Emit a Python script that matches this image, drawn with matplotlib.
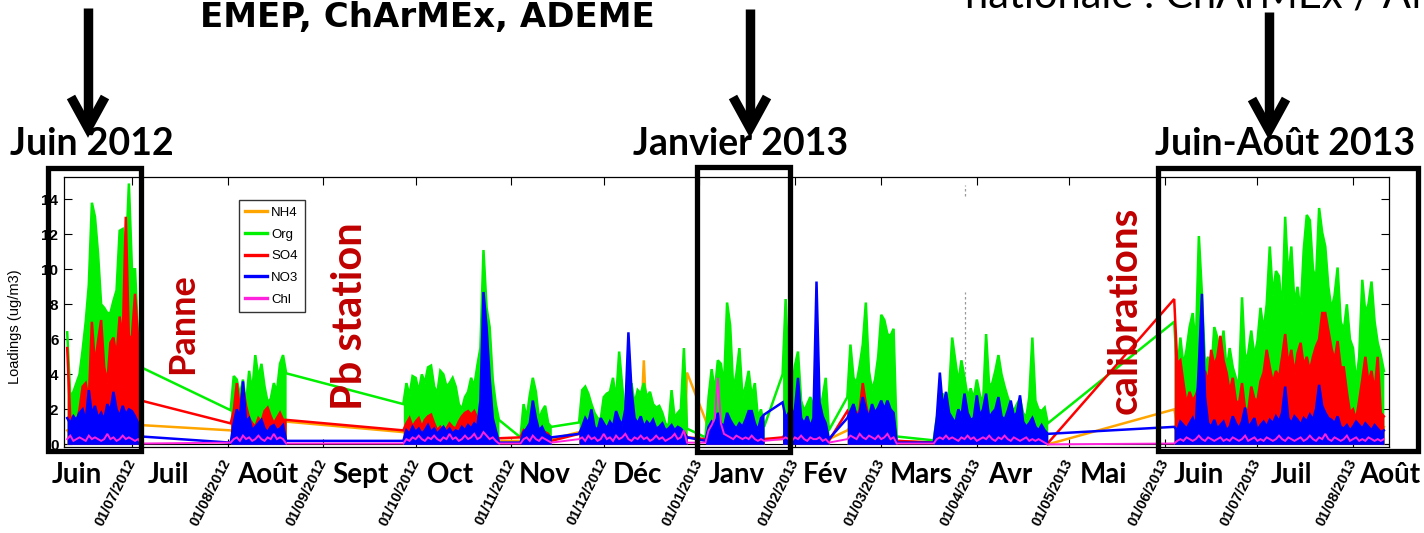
import matplotlib
matplotlib.use("Agg")
import matplotlib.pyplot as plt
import matplotlib.dates as mdates
from matplotlib.lines import Line2D
from matplotlib.patches import Rectangle
import pandas as pd

# ---------------- data (daily values) ----------------
seg_start = ['2012-06-10', '2012-08-02', '2012-09-27', '2012-11-04', '2012-11-23',
             '2013-01-03', '2013-01-28', '2013-02-18', '2013-03-18', '2013-06-04']

nh4 = [
    [0.8, 0.6, 0.7, 0.5, 0.9, 1.0, 0.8, 1.2, 1.0, 0.9, 1.1, 1.3, 0.9, 1.0, 1.2, 1.4, 1.1, 1.3, 1.0, 1.5, 1.2, 1.1, 1.3, 1.2, 1.1],
    [0.8, 0.6, 0.9, 0.7, 1.0, 0.6, 0.8, 0.5, 0.7, 0.9, 0.6, 1.0, 0.8, 0.7, 0.9, 0.6, 1.0, 0.8, 1.3],
    [0.7, 0.6, 0.8, 0.5, 0.7, 0.9, 0.6, 0.8, 0.7, 0.9, 0.6, 0.5, 0.7, 0.6, 0.8, 0.5, 0.7, 0.6, 0.8, 0.9, 0.7, 1.0, 0.8, 0.9, 0.7, 0.8, 1.2, 0.9, 0.6, 0.5, 0.4, 0.2],
    [0.2, 0.3, 0.5, 0.4, 0.6, 0.3, 0.4, 0.5, 0.3, 0.4, 0.3],
    [0.7, 0.5, 0.8, 0.6, 0.9, 0.5, 0.6, 0.7, 0.8, 0.6, 0.9, 0.7, 0.5, 0.8, 0.6, 0.7, 0.9, 0.6, 0.8, 0.5, 0.7, 4.8, 0.9, 0.6, 0.8, 0.7, 0.5, 0.6, 0.8, 0.7, 0.5, 0.6, 0.7, 0.5, 0.8, 4.1],
    [1.4, 0.8, 0.6, 0.7, 0.5, 0.6, 0.8, 0.5, 0.7, 0.6, 0.4, 0.5, 0.6, 0.4, 0.5, 0.3, 0.4, 0.3, 0.4, 0.3],
    [0.3, 0.5, 0.4, 0.6, 0.4, 0.5, 0.3, 0.4, 0.6, 0.5, 0.4, 0.7, 0.5, 0.4, 0.5, 0.3],
    [0.8, 1.0, 1.2, 0.9, 1.1, 1.4, 1.0, 0.8, 1.2, 0.9, 1.0, 1.3, 1.1, 1.2, 0.9, 1.0, 0.2],
    [0.1, 0.4, 0.6, 0.5, 0.7, 0.5, 0.6, 0.4, 0.5, 0.7, 0.6, 0.5, 0.4, 0.6, 0.5, 0.7, 0.4, 0.6, 0.5, 0.4, 0.6, 0.5, 0.4, 0.5, 0.6, 0.4, 0.5, 0.3, 0.4, 0.5, 0.3, 0.4, 0.3, 0.4, 0.2, 0.3, 0.2, 0.0],
    [2.0, 1.2, 1.5, 1.0, 1.3, 1.1, 1.6, 1.2, 1.8, 1.4, 1.0, 1.3, 1.5, 1.2, 1.7, 1.4, 1.1, 1.6, 1.3, 1.5, 1.2, 1.8, 1.4, 1.6, 1.3, 2.0, 1.5, 1.7, 1.2, 1.4, 1.9, 1.6, 1.3, 1.8, 2.2, 1.5, 2.0, 1.7, 1.4, 1.6, 1.3, 1.9, 1.5, 1.7, 1.4, 2.0, 1.6, 2.1, 2.4, 1.8, 1.5, 2.0, 1.7, 1.6, 1.9, 1.3, 1.5, 2.2, 1.6, 1.8, 1.2, 1.4, 1.6, 1.3, 1.5, 1.2, 1.4, 1.1, 1.0],
]

org = [
    [6.4, 2.7, 3.0, 3.5, 4.0, 5.4, 7.0, 9.1, 13.8, 13.0, 10.9, 8.0, 7.8, 7.5, 7.5, 8.2, 8.8, 12.2, 12.3, 10.5, 14.9, 10.0, 10.0, 6.0, 4.4],
    [1.95, 3.9, 3.7, 2.8, 3.7, 2.3, 4.2, 3.0, 5.1, 3.8, 4.6, 3.3, 2.4, 2.6, 3.5, 3.0, 4.6, 5.1, 4.06],
    [2.3, 3.5, 2.8, 3.9, 3.8, 3.0, 4.0, 3.5, 4.4, 4.5, 3.3, 2.9, 4.2, 4.0, 3.3, 3.5, 3.8, 3.3, 2.3, 2.0, 2.7, 3.0, 3.8, 3.3, 4.5, 5.5, 11.1, 7.8, 6.7, 3.7, 2.3, 1.4],
    [0.4, 2.3, 1.5, 2.8, 3.8, 3.0, 1.4, 1.9, 2.2, 1.2, 1.0],
    [1.25, 3.1, 3.3, 2.9, 2.3, 1.8, 1.5, 1.4, 2.7, 2.9, 3.0, 3.8, 2.5, 5.3, 3.3, 1.5, 2.6, 3.5, 2.3, 3.1, 2.9, 3.5, 2.7, 3.0, 2.3, 2.1, 2.2, 1.8, 1.2, 1.0, 3.1, 1.5, 1.8, 2.0, 5.5, 0.9],
    [0.4, 2.7, 4.3, 3.0, 4.8, 4.6, 3.3, 8.1, 6.8, 3.1, 4.0, 5.5, 2.7, 3.3, 4.2, 2.7, 3.5, 1.5, 2.0, 1.0],
    [4.0, 8.3, 3.5, 3.0, 4.5, 5.3, 2.5, 1.9, 2.3, 2.7, 2.2, 2.5, 1.8, 2.7, 3.8, 0.8],
    [2.7, 5.7, 3.8, 3.5, 4.5, 5.7, 8.1, 4.2, 3.1, 3.7, 5.0, 7.4, 7.1, 6.3, 6.2, 6.6, 0.45],
    [0.23, 1.5, 2.3, 2.9, 2.4, 3.0, 6.1, 4.8, 3.5, 4.8, 3.8, 2.7, 3.2, 2.6, 3.7, 2.8, 2.3, 6.3, 3.3, 3.5, 4.2, 5.1, 4.0, 3.3, 2.7, 2.2, 1.9, 2.3, 2.6, 1.8, 1.5, 2.7, 6.1, 2.5, 2.0, 1.9, 2.1, 1.2],
    [7.0, 4.0, 6.1, 4.5, 5.4, 6.7, 7.5, 5.5, 11.9, 8.6, 4.5, 5.0, 4.0, 6.7, 6.1, 4.8, 6.5, 4.2, 5.5, 4.4, 3.8, 3.3, 8.4, 4.8, 5.2, 6.5, 5.0, 5.9, 7.8, 6.5, 8.0, 11.3, 8.5, 9.9, 9.6, 7.5, 13.0, 9.4, 11.3, 8.0, 9.0, 7.5, 11.1, 13.1, 12.8, 10.0, 9.4, 13.5, 12.1, 11.3, 9.0, 7.7, 8.5, 10.1, 7.0, 6.5, 8.0, 6.0, 5.5, 3.5, 5.0, 9.4, 7.5, 8.0, 9.3, 7.0, 5.8, 5.1, 4.2],
]

so4 = [
    [5.5, 1.4, 1.6, 1.2, 2.0, 3.3, 3.5, 2.5, 7.0, 4.5, 5.9, 7.1, 4.4, 3.5, 5.8, 6.1, 5.0, 7.3, 6.0, 13.0, 6.0, 6.2, 8.6, 6.0, 2.5],
    [1.2, 1.9, 3.5, 2.0, 3.3, 2.2, 1.5, 1.2, 1.0, 1.5, 1.3, 1.9, 2.1, 1.6, 1.2, 1.5, 1.8, 1.4, 1.4],
    [0.8, 1.2, 1.5, 1.0, 1.3, 1.5, 1.0, 1.4, 1.6, 1.7, 1.2, 0.8, 1.0, 0.8, 0.9, 1.2, 1.0, 0.9, 1.3, 1.6, 1.8, 1.9, 1.7, 1.9, 1.5, 1.2, 1.5, 0.8, 0.7, 0.5, 0.4, 0.35],
    [0.4, 0.8, 0.6, 0.9, 0.7, 0.6, 0.8, 0.5, 0.7, 0.6, 0.2],
    [0.6, 0.8, 1.0, 0.7, 0.9, 0.6, 0.5, 0.7, 0.9, 1.0, 0.8, 0.6, 0.9, 1.1, 0.8, 0.6, 0.9, 0.7, 0.6, 0.8, 1.0, 0.7, 0.9, 0.6, 0.8, 0.7, 0.5, 0.6, 0.8, 0.5, 0.7, 0.6, 0.8, 0.5, 0.7, 0.4],
    [0.3, 0.5, 0.4, 0.6, 0.5, 0.7, 0.4, 0.6, 0.8, 0.5, 0.6, 0.4, 0.5, 0.7, 0.4, 0.5, 0.6, 0.3, 0.4, 0.3],
    [0.4, 0.6, 0.5, 0.7, 0.5, 0.8, 0.6, 0.4, 0.5, 0.7, 0.6, 0.8, 0.5, 0.6, 0.7, 0.2],
    [1.9, 1.5, 2.2, 1.6, 2.0, 3.5, 2.3, 1.5, 1.8, 1.4, 2.0, 1.6, 1.8, 1.5, 1.2, 1.4, 0.2],
    [0.1, 0.5, 0.8, 0.6, 1.0, 0.8, 0.7, 0.9, 1.2, 0.8, 1.0, 0.7, 0.9, 1.1, 0.8, 0.7, 1.0, 0.9, 0.8, 1.2, 1.0, 1.3, 0.9, 0.8, 1.0, 1.6, 1.2, 0.9, 1.1, 0.8, 1.0, 0.9, 1.5, 0.8, 0.7, 0.9, 0.5, 0.06],
    [8.3, 4.6, 4.8, 3.5, 2.3, 3.0, 2.5, 2.8, 3.3, 2.6, 4.2, 3.5, 5.4, 4.5, 5.0, 6.2, 4.8, 4.1, 3.0, 3.8, 2.5, 2.3, 3.5, 2.0, 1.9, 3.3, 2.6, 2.5, 3.6, 4.1, 5.4, 4.4, 3.5, 4.2, 3.8, 5.0, 6.3, 4.5, 5.4, 4.0, 5.2, 5.8, 4.5, 5.0, 4.2, 5.0, 5.6, 6.0, 7.5, 7.5, 6.5, 5.5, 4.8, 5.9, 4.4, 4.4, 3.0, 1.8, 2.0, 1.4, 2.5, 3.7, 5.0, 3.5, 4.2, 3.0, 5.0, 1.8, 1.6],
]

no3 = [
    [1.5, 1.2, 1.6, 1.4, 1.8, 2.0, 1.3, 3.1, 1.7, 2.2, 1.5, 1.8, 1.4, 2.3, 1.9, 3.0, 2.0, 1.6, 2.2, 1.7, 2.0, 1.9, 1.6, 1.2, 0.45],
    [0.1, 1.2, 2.0, 1.5, 3.6, 1.3, 1.5, 0.8, 1.0, 1.2, 1.4, 0.9, 0.7, 1.0, 1.1, 0.8, 0.9, 1.1, 0.2],
    [0.2, 0.8, 0.6, 1.0, 0.7, 0.9, 0.6, 0.8, 1.1, 0.7, 0.9, 0.6, 0.8, 1.0, 0.7, 0.9, 0.6, 0.8, 0.7, 1.0, 0.8, 1.1, 0.9, 1.2, 1.0, 2.5, 8.7, 6.7, 3.8, 1.5, 0.8, 0.1],
    [0.1, 0.7, 0.9, 1.2, 2.5, 1.5, 0.8, 1.0, 0.6, 0.5, 0.4],
    [0.6, 1.0, 1.5, 1.2, 2.0, 1.0, 0.8, 1.5, 1.2, 0.9, 1.3, 1.0, 1.9, 1.4, 1.1, 2.0, 6.4, 3.1, 1.5, 1.2, 1.6, 1.0, 1.3, 1.1, 1.4, 0.9, 1.0, 1.2, 0.8, 0.9, 1.1, 0.8, 1.0, 0.9, 0.7, 0.4],
    [0.2, 1.0, 1.3, 1.1, 1.8, 1.2, 1.0, 1.8, 1.4, 1.1, 0.9, 1.2, 1.0, 1.4, 1.9, 1.9, 1.2, 0.8, 1.5, 1.7],
    [2.4, 1.5, 1.8, 1.5, 2.0, 3.8, 1.5, 1.2, 1.6, 1.0, 1.5, 9.3, 2.4, 1.6, 1.2, 0.3],
    [1.5, 1.9, 2.3, 1.6, 1.8, 2.7, 2.0, 1.5, 2.3, 1.8, 2.1, 2.5, 2.0, 2.5, 2.0, 1.8, 0.1],
    [0.1, 1.5, 4.1, 2.0, 3.0, 1.8, 1.5, 1.2, 2.0, 1.6, 2.9, 1.8, 1.4, 1.5, 2.8, 1.6, 2.0, 2.9, 1.5, 1.8, 2.0, 2.7, 1.6, 1.4, 1.9, 2.5, 1.6, 1.8, 2.8, 1.3, 1.0, 1.2, 1.5, 1.0, 0.8, 1.1, 0.8, 0.6],
    [1.0, 0.8, 1.3, 1.1, 0.9, 1.2, 1.5, 1.0, 4.5, 8.6, 2.7, 1.2, 1.0, 1.4, 0.9, 1.1, 1.3, 0.8, 1.0, 1.6, 1.2, 0.9, 1.3, 2.1, 1.0, 1.2, 1.5, 0.8, 1.1, 1.3, 1.0, 1.4, 1.2, 1.6, 1.3, 1.8, 3.3, 1.5, 1.2, 1.6, 1.4, 1.1, 1.5, 1.3, 1.7, 1.4, 2.0, 3.4, 2.2, 1.8, 1.5, 1.4, 1.2, 1.6, 1.0, 0.9, 1.1, 0.8, 1.0, 1.3, 1.1, 0.9, 1.2, 1.0, 0.8, 1.1, 0.9, 0.7, 0.8],
]

chl = [
    [0.3, 0.5, 0.2, 0.3, 0.4, 0.3, 0.2, 0.5, 0.3, 0.4, 0.3, 0.2, 0.3, 0.6, 0.3, 0.4, 0.2, 0.3, 0.5, 0.3, 0.4, 0.3, 0.2, 0.3, 0.05],
    [0.1, 0.3, 0.4, 0.2, 0.5, 0.3, 0.4, 0.2, 0.3, 0.5, 0.3, 0.2, 0.4, 0.3, 0.6, 0.3, 0.4, 0.3, 0.05],
    [0.05, 0.3, 0.2, 0.4, 0.3, 0.5, 0.3, 0.2, 0.4, 0.3, 0.5, 0.3, 0.2, 0.4, 0.3, 0.6, 0.3, 0.4, 0.2, 0.3, 0.5, 0.3, 0.4, 0.6, 0.3, 0.4, 0.7, 0.5, 0.3, 0.4, 0.2, 0.05],
    [0.05, 0.3, 0.4, 0.2, 0.5, 0.3, 0.2, 0.4, 0.3, 0.2, 0.1],
    [0.3, 0.4, 0.2, 0.5, 0.3, 0.4, 0.2, 0.3, 0.6, 0.3, 0.4, 0.2, 0.5, 0.3, 0.4, 0.6, 0.3, 0.2, 0.4, 0.3, 0.5, 0.3, 0.4, 0.2, 0.3, 0.5, 0.3, 0.4, 0.2, 0.3, 0.4, 0.6, 0.3, 0.4, 0.8, 0.1],
    [0.1, 0.8, 1.1, 1.5, 3.8, 1.2, 0.6, 0.5, 0.4, 0.3, 0.5, 0.4, 0.3, 0.4, 0.3, 0.5, 0.3, 0.2, 0.3, 0.2],
    [0.3, 0.4, 0.3, 0.2, 0.4, 0.3, 0.5, 0.3, 0.2, 0.4, 0.3, 0.3, 0.4, 0.2, 0.3, 0.1],
    [0.3, 0.5, 0.4, 0.3, 0.6, 0.4, 0.3, 0.5, 0.4, 0.3, 0.5, 0.3, 0.4, 0.6, 0.3, 0.4, 0.05],
    [0.05, 0.3, 0.4, 0.3, 0.5, 0.3, 0.4, 0.3, 0.2, 0.4, 0.3, 0.5, 0.3, 0.4, 0.2, 0.3, 0.4, 0.3, 0.5, 0.3, 0.2, 0.4, 0.3, 0.5, 0.3, 0.2, 0.4, 0.3, 0.2, 0.3, 0.4, 0.2, 0.3, 0.2, 0.3, 0.2, 0.1, 0.0],
    [0.05, 0.2, 0.3, 0.2, 0.4, 0.3, 0.2, 0.3, 0.5, 0.3, 0.2, 0.4, 0.3, 0.2, 0.3, 0.4, 0.2, 0.3, 0.2, 0.4, 0.3, 0.2, 0.3, 0.5, 0.2, 0.3, 0.4, 0.2, 0.3, 0.2, 0.4, 0.3, 0.2, 0.3, 0.5, 0.3, 0.2, 0.4, 0.3, 0.2, 0.3, 0.4, 0.2, 0.3, 0.5, 0.3, 0.2, 0.4, 0.3, 0.6, 0.3, 0.2, 0.4, 0.3, 0.2, 0.3, 0.5, 0.2, 0.3, 0.4, 0.2, 0.3, 0.2, 0.4, 0.3, 0.2, 0.3, 0.2, 0.3],
]

series_names = ['NH4', 'Org', 'SO4', 'NO3', 'Chl']
series_colors = ['#FFA500', '#00F000', '#FF0000', '#0000FF', '#FF22DD']
series_filled = [True, True, True, True, False]

month_names = ['Juin', 'Juil', 'Août', 'Sept', 'Oct', 'Nov', 'Déc', 'Janv', 'Fév',
               'Mars', 'Avr', 'Mai', 'Juin', 'Juil', 'Août']
month_label_dates = ['2012-06-13', '2012-07-13', '2012-08-14', '2012-09-13', '2012-10-12',
                     '2012-11-12', '2012-12-12', '2013-01-13', '2013-02-11', '2013-03-14',
                     '2013-04-12', '2013-05-12', '2013-06-12', '2013-07-12', '2013-08-13']
tick_dates = pd.date_range('2012-07-01', '2013-08-01', freq='MS')
marker_date = '2013-03-28'

period_titles = ['Juin 2012', 'Janvier 2013', 'Juin-Août 2013']
red_notes = ['Panne', 'Pb station', 'calibrations']

# ---------------- figure ----------------
W, H = 1424, 533
fig = plt.figure(figsize=(W / 100, H / 100), dpi=100)
fig.patch.set_facecolor('white')


def fx(px):
    return px / W


def fy(py):
    return 1 - py / H


ax = fig.add_axes([fx(64), fy(447), fx(1389) - fx(64), fy(177) - fy(447)])

all_series = [nh4, org, so4, no3, chl]
for i, (segs, col, filled) in enumerate(zip(all_series, series_colors, series_filled)):
    xs, ys = [], []
    for start, vals in zip(seg_start, segs):
        d = pd.date_range(start, periods=len(vals), freq='D')
        if filled:
            ax.fill_between(d, 0, vals, color=col, lw=0, zorder=2 + i)
        xs.extend(d)
        ys.extend(vals)
    ax.plot(xs, ys, color=col, lw=1.8 if filled else 1.4, solid_joinstyle='miter',
            zorder=2.5 + i)

ax.axhline(0, color='black', lw=0.8, zorder=1)
md = pd.Timestamp(marker_date)
ax.vlines([md, md], [0, 14.2], [8.7, 14.8], colors='#999999', linestyles=(0, (2, 2)), lw=0.9,
          zorder=1)

ax.set_xlim(pd.Timestamp('2012-06-08 23:00'), pd.Timestamp('2013-08-12 16:00'))
ax.set_ylim(-0.15, 15.27)
ax.set_yticks(range(0, 15, 2))
ax.set_xticks(tick_dates)
ax.xaxis.set_major_formatter(mdates.DateFormatter('%d/%m/%Y'))
ax.tick_params(axis='both', direction='in', length=6, width=0.8, top=True, right=True)
ax.tick_params(axis='x', pad=9)
ax.tick_params(axis='y', pad=4)
for lab in ax.get_xticklabels():
    lab.set_rotation(63)
    lab.set_ha('right')
    lab.set_va('center')
    lab.set_rotation_mode('anchor')
    lab.set_fontsize(10.5)
    lab.set_fontweight('bold')
    lab.set_family('Liberation Sans')
for lab in ax.get_yticklabels():
    lab.set_fontsize(11)
    lab.set_fontweight('bold')
    lab.set_family('Liberation Sans')
for sp in ax.spines.values():
    sp.set_linewidth(0.9)

# legend
handles = [Line2D([0], [0], color=c, lw=2.4) for c in series_colors]
leg = ax.legend(handles, series_names, loc='upper left', bbox_to_anchor=(0.132, 0.915),
                borderaxespad=0, frameon=True, fancybox=False, edgecolor='black',
                prop={'family': 'Liberation Sans', 'size': 9.5}, handlelength=1.6,
                handletextpad=0.35, labelspacing=0.72, borderpad=0.5)
leg.get_frame().set_linewidth(1.0)
leg.set_zorder(15)

# month names under the axis
xt = ax.get_xaxis_transform()
for name, d in zip(month_names, month_label_dates):
    ax.text(pd.Timestamp(d), -0.1333, name, transform=xt, ha='center', va='baseline',
            fontsize=20, fontweight='bold', family='Lato', clip_on=False)

# y label
fig.text(fx(15), fy(327), 'Loadings (ug/m3)', rotation=90, ha='center', va='center',
         fontsize=10.5, family='Liberation Sans')

# red rotated notes
note_pos = [(183, 324, 26), (350, 316, 30), (1125, 310, 29)]
for txt, (px, py, fs) in zip(red_notes, note_pos):
    fig.text(fx(px), fy(py), txt, rotation=90, ha='center', va='center', color='#C00000',
             fontsize=fs, fontweight='bold', family='Lato', zorder=20)

# period titles
title_pos = [(92, 155), (741, 155), (1285, 155)]
for txt, (px, py) in zip(period_titles, title_pos):
    fig.text(fx(px), fy(py), txt, ha='center', va='baseline', fontsize=27,
             fontweight='bold', family='Lato')

# highlight boxes
boxes = [(47.5, 167.5, 141, 451), (697, 167.5, 790, 452), (1158, 167.5, 1418, 451)]
for l, t, r, b in boxes:
    fig.add_artist(Rectangle((fx(l), fy(b)), fx(r) - fx(l), fy(t) - fy(b),
                             transform=fig.transFigure, fill=False, edgecolor='black',
                             lw=3.8, zorder=30, joinstyle='miter'))

# arrows
arrows = [(88, 8, 128), (750, 9, 128), (1269, 12, 130)]
for x0, ytop, ytip in arrows:
    fig.add_artist(Line2D([fx(x0), fx(x0)], [fy(ytop), fy(ytip - 4)], transform=fig.transFigure,
                          color='black', lw=6.8, solid_capstyle='butt'))
    fig.add_artist(Line2D([fx(x0 - 17), fx(x0), fx(x0 + 17)], [fy(ytip - 31), fy(ytip), fy(ytip - 31)],
                          transform=fig.transFigure, color='black', lw=6.8,
                          solid_joinstyle='miter', solid_capstyle='butt'))

# top texts (the right one is cut by the top edge, as in the original)
fig.text(fx(427), fy(17), 'EMEP, ChArMEx, ADEME', ha='center', va='center', fontsize=24.5,
         fontweight='bold', family='DejaVu Sans')
fig.text(fx(965), fy(8), 'nationale : ChArMEx / ANR', ha='left', va='baseline', fontsize=30,
         family='Lato')

fig.savefig('out.png', dpi=100, facecolor='white')
